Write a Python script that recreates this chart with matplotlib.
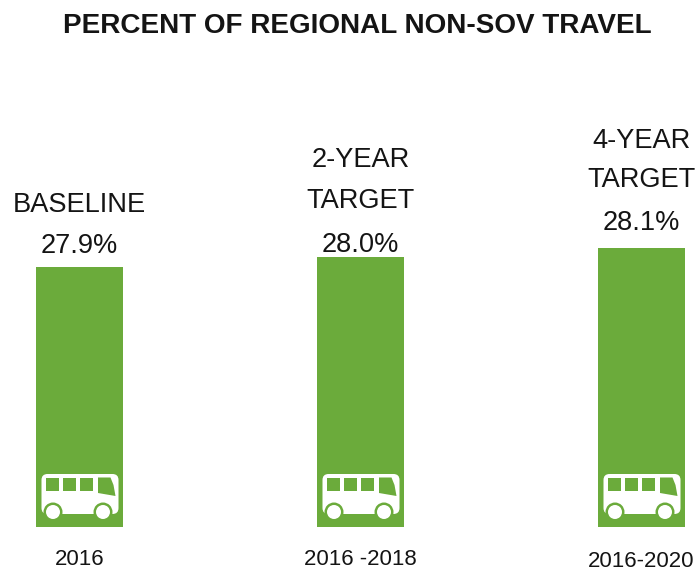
import matplotlib
matplotlib.use('Agg')
import matplotlib.pyplot as plt
from matplotlib.patches import FancyBboxPatch, Circle, Polygon, Rectangle
from matplotlib.transforms import Affine2D

plt.rcParams['font.family'] = ['Liberation Sans', 'DejaVu Sans']

# values
title = 'PERCENT OF REGIONAL NON-SOV TRAVEL'
values = [27.9, 28.0, 28.1]
heads = [['BASELINE'], ['2-YEAR', 'TARGET'], ['4-YEAR', 'TARGET']]
periods = ['2016', '2016 -2018', '2016-2020']

GREEN = '#6bab3b'
INK = '#141414'
BASE = 25.16   # the bars do not start at zero
PT = 0.72      # points per pixel at dpi 100

# label gaps above each bar top and period label rows, in pixels
value_gap = [21, 12, 25]
head_gap = [[62], [97, 56], [107, 68]]
period_row = [559, 559, 561]

fig = plt.figure(figsize=(6.99, 5.72), dpi=100)
ax = fig.add_axes([0, 0, 1, 1])
ax.axis('off')

# axis limits put the bars where they sit in the original
ax.set_xlim(-79.5 / 281, (699 - 79.5) / 281)
ax.set_ylim(BASE - (572 - 527) / 95, BASE + 527 / 95)

xs = range(len(values))
ax.bar(xs, [v - BASE for v in values], bottom=BASE, width=0.31, color=GREEN, linewidth=0)

fig.text(357.5 / 699, 1 - 26 / 572, title, ha='center', va='center',
         fontsize=20.1, fontweight='bold', color=INK)


def draw_bus(x):
    # icon is drawn in pixels, measured from the bottom centre of the bar
    px, py = ax.transData.transform((x, BASE))
    tr = Affine2D().scale(1, -1).translate(px, py)

    def add(patch):
        patch.set_transform(tr)
        ax.add_patch(patch)

    add(FancyBboxPatch((-38, -53), 77, 40, boxstyle='round,pad=0,rounding_size=6',
                       fc='white', ec='none'))
    for wx in [-33.5, -16.5, 0.5]:
        add(Rectangle((wx, -49.5), 13, 13, fc=GREEN, ec='none'))
    add(Polygon([(18.5, -49.5), (31, -49.5), (34, -42), (36, -31), (18.5, -34)], fc=GREEN, ec='none'))
    for wx in [-26.5, 23.5]:
        add(Circle((wx, -15), 9.5, fc=GREEN, ec='none'))
        add(Circle((wx, -15), 7, fc='white', ec='none'))


for i, v in enumerate(values):
    draw_bus(i)
    ax.annotate('%.1f%%' % v, (i, v), xytext=(0, value_gap[i] * PT), textcoords='offset points',
                ha='center', va='center', fontsize=19.6, color=INK)
    for line, gap in zip(heads[i], head_gap[i]):
        ax.annotate(line, (i, v), xytext=(0, gap * PT), textcoords='offset points',
                    ha='center', va='center', fontsize=19.6, color=INK)

for i, lab in enumerate(periods):
    ax.annotate(lab, (i, BASE), xytext=(0, -(period_row[i] - 527) * PT), textcoords='offset points',
                ha='center', va='center', fontsize=16, color=INK)

fig.savefig('out.png', dpi=100)
